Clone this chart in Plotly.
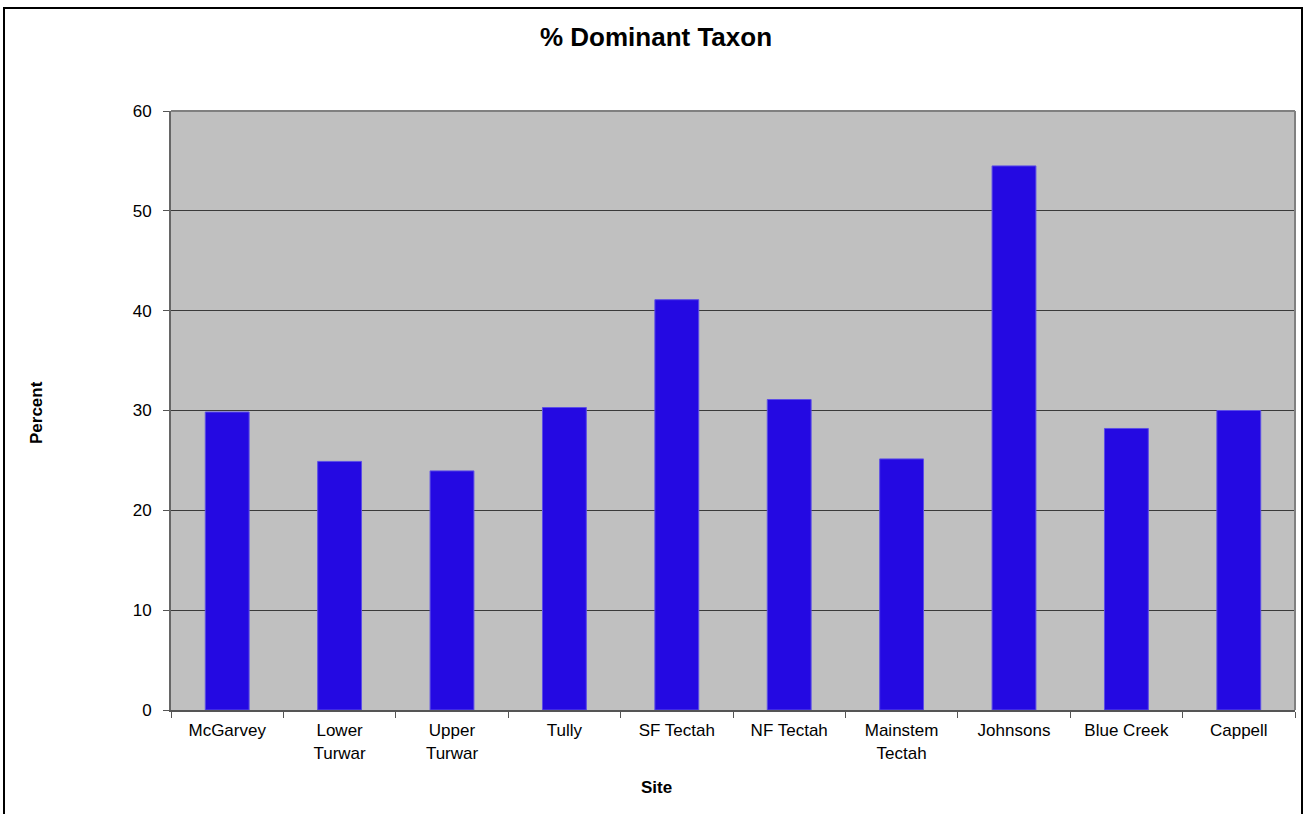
import plotly.graph_objects as go

sites = ["McGarvey", "Lower<br>Turwar", "Upper<br>Turwar", "Tully", "SF Tectah",
         "NF Tectah", "Mainstem<br>Tectah", "Johnsons", "Blue Creek", "Cappell"]
percent = [29.85, 24.9, 23.95, 30.3, 41.1, 31.1, 25.15, 54.5, 28.2, 30.0]
y_ticks = [0, 10, 20, 30, 40, 50, 60]

W, H = 1310, 814
L, R, T, B = 171, 1295, 111, 710

fig = go.Figure(go.Bar(
    x=sites, y=percent,
    marker=dict(color="#2409E2", line=dict(color="#5c4ee6", width=1)),
    hoverinfo="x+y",
))

font = "Liberation Sans, Arial, sans-serif"
pw = R - L
ph = B - T

fig.update_layout(
    width=W, height=H,
    margin=dict(l=L, r=W - R, t=T, b=H - B, autoexpand=False),
    paper_bgcolor="white",
    plot_bgcolor="#C0C0C0",
    bargap=0.61,
    showlegend=False,
    font=dict(family=font, color="black", size=17),
    title=dict(text="<b>% Dominant Taxon</b>", x=656 / W, xref="container",
               xanchor="center", y=1 - 37 / H, yanchor="middle",
               font=dict(family=font, size=26, color="black")),
    xaxis=dict(
        type="category", tickson="boundaries", ticks="outside", ticklen=6,
        tickcolor="#555555", showline=True, linecolor="#555555", linewidth=2,
        mirror=False, tickfont=dict(size=17, family=font), showgrid=False,
        ticklabelstandoff=4, fixedrange=True,
    ),
    yaxis=dict(
        range=[0, 60], tickvals=y_ticks, ticks="outside", ticklen=6,
        tickcolor="#555555", showline=True, linecolor="#666666", linewidth=2,
        showgrid=True, gridcolor="#3a3a3a", gridwidth=1, zeroline=False,
        tickfont=dict(size=17, family=font), ticklabelstandoff=8,
        fixedrange=True,
    ),
    shapes=[
        dict(type="line", xref="paper", yref="paper", x0=0, x1=1, y0=1, y1=1,
             line=dict(color="#808080", width=2)),
        dict(type="line", xref="paper", yref="paper", x0=1, x1=1, y0=0, y1=1,
             line=dict(color="#808080", width=2)),
        dict(type="rect", xref="paper", yref="paper",
             x0=(4 - L) / pw, x1=(1302 - L) / pw,
             y0=(B - 830) / ph, y1=(B - 8) / ph,
             line=dict(color="black", width=2), layer="above"),
    ],
    annotations=[
        dict(text="<b>Percent</b>", xref="paper", yref="paper",
             x=(36 - L) / pw, y=(B - 413) / ph, textangle=-90,
             showarrow=False, xanchor="center", yanchor="middle",
             font=dict(family=font, size=17, color="black")),
        dict(text="<b>Site</b>", xref="paper", yref="paper",
             x=(656 - L) / pw, y=(B - 787) / ph,
             showarrow=False, xanchor="center", yanchor="middle",
             font=dict(family=font, size=17, color="black")),
    ],
)

fig.write_html("out.html", config={"displayModeBar": False},
               post_script="document.body.style.margin='0';document.body.style.overflow='hidden';")
